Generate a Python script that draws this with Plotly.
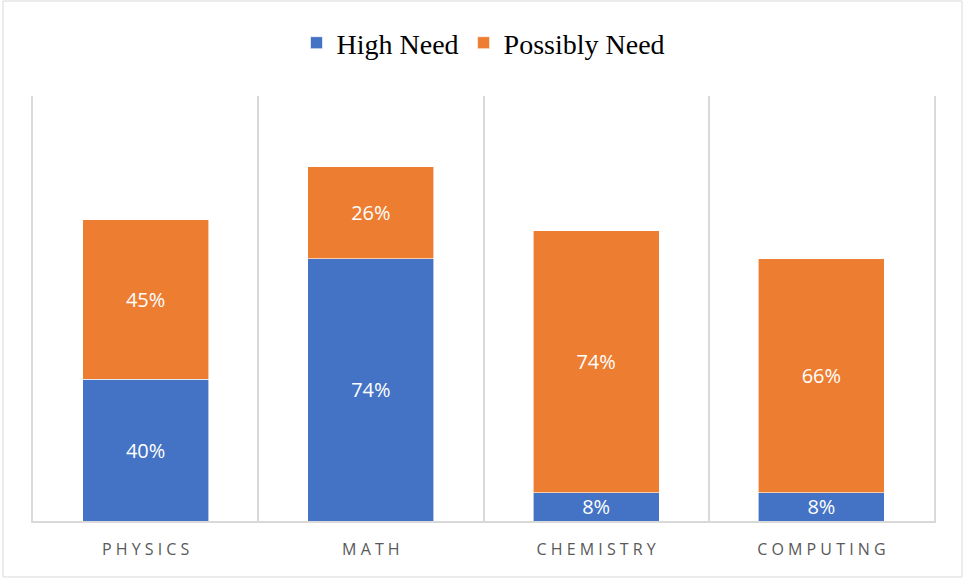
import plotly.graph_objects as go

categories = ["PHYSICS", "MATH", "CHEMISTRY", "COMPUTING"]
high_need = [40, 74, 8, 8]
possibly_need = [45, 26, 74, 66]
series_names = ["High Need", "Possibly Need"]
colors = ["#4472C4", "#ED7D31"]

W, H = 963, 578
ml, mr, mt, mb = 33, 29, 96, 57
pw, ph = W - ml - mr, H - mt - mb

xs = list(range(len(categories)))
spaced = [" ".join(list(c)) for c in categories]

fig = go.Figure()
for name, vals, col in zip(series_names, [high_need, possibly_need], colors):
    fig.add_trace(go.Bar(
        x=xs, y=vals, name=name,
        marker=dict(color=col, line=dict(color="white", width=0.6)),
        width=0.56,
        text=[f"{v}%" for v in vals],
        textposition="inside", insidetextanchor="middle",
        constraintext="none",
        textfont=dict(family="Open Sans", size=20, color="white"),
        hoverinfo="skip",
    ))

fig.update_layout(
    barmode="stack",
    width=W, height=H,
    margin=dict(l=ml, r=mr, t=mt, b=mb),
    paper_bgcolor="white", plot_bgcolor="white",
    showlegend=True,
    legend=dict(orientation="h", x=0.5, xanchor="center",
                y=1 + (mt - 43) / ph, yanchor="middle",
                font=dict(family="Liberation Serif", size=28, color="black"),
                itemwidth=30, traceorder="normal"),
    xaxis=dict(range=[-0.5, len(categories) - 0.5],
               tickvals=xs, ticktext=spaced,
               showgrid=False, zeroline=False,
               showline=True, linecolor="#d9d9d9", linewidth=2,
               ticks="outside", ticklen=13, tickcolor="rgba(0,0,0,0)",
               tickfont=dict(family="Open Sans", size=16, color="#595959"),
               minor=dict(tickvals=[i + 0.5 for i in xs[:-1]], showgrid=True,
                          gridcolor="#d9d9d9", gridwidth=2, ticks="")),
    yaxis=dict(range=[0, 120], showgrid=False, zeroline=False,
               showticklabels=False, ticks="",
               showline=True, mirror=True, linecolor="#d9d9d9", linewidth=2),
    shapes=[dict(type="rect", xref="paper", yref="paper",
                 x0=-(ml - 3) / pw, x1=1 + (mr - 1) / pw,
                 y0=-(mb - 1) / ph, y1=1 + (mt - 1) / ph,
                 line=dict(color="#d9d9d9", width=1), layer="below")],
)

fig.write_html("out.html")
